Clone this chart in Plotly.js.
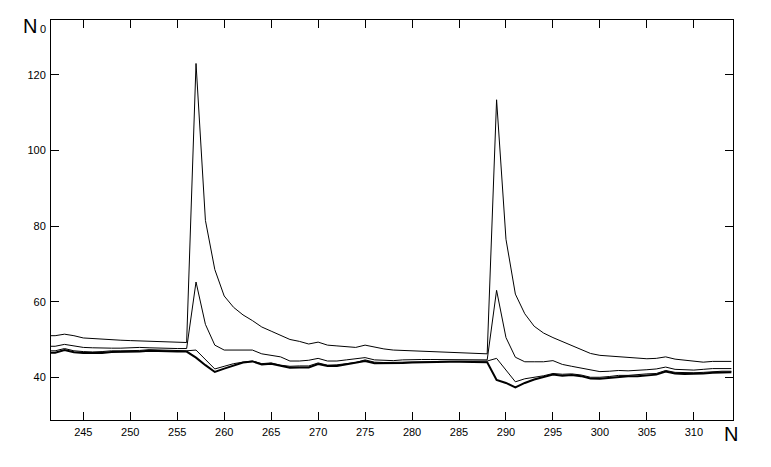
<!DOCTYPE html>
<html>
<head>
<meta charset="utf-8">
<script src="https://cdn.plot.ly/plotly-3.0.1.min.js"></script>
<style>html,body{margin:0;padding:0;background:#fff;}#chart{width:771px;height:467px;}</style>
</head>
<body>
<div id="chart"></div>
<script>
// N values (x)
var nValues = [];
for (var n = 241; n <= 314; n++) nValues.push(n);

// Series A (largest peaks)
var seriesA = [51.0,51.0,51.4,51.0,50.4,50.2,50.1,49.9,49.8,49.7,49.6,49.5,49.4,49.3,49.2,49.2,
  123.0,81.5,68.5,61.5,58.5,56.5,55.0,53.3,52.2,51.0,50.0,49.5,48.8,49.3,48.5,48.3,48.2,47.9,48.5,47.9,
  47.5,47.2,47.1,47.0,46.9,46.9,46.8,46.7,46.6,46.5,46.3,46.2,
  113.4,76.5,62.0,56.8,53.5,51.7,50.5,49.5,48.5,47.5,46.3,45.8,45.6,45.5,45.3,45.0,44.9,45.0,45.4,44.8,
  44.5,44.2,44.0,44.2,44.2,44.2];

// Series B (small peaks)
var seriesB = [48.2,48.2,48.7,48.2,47.9,47.8,47.7,47.7,47.7,47.8,47.9,47.8,47.7,47.7,47.6,47.6,
  65.2,54.0,48.5,47.2,47.2,47.2,47.2,46.2,45.8,45.4,44.3,44.3,44.5,45.0,44.3,44.3,44.6,44.8,45.2,44.6,
  44.4,44.4,44.6,44.7,44.7,44.7,44.7,44.7,44.7,44.7,44.6,44.6,
  63.0,50.5,45.3,44.1,44.1,44.1,44.4,43.4,42.9,42.4,41.8,41.5,41.6,41.8,41.7,41.8,42.0,42.2,42.7,42.1,
  42.0,41.9,42.1,42.3,42.3,42.3];

// Series C (thin, dips)
var seriesC = [47.0,47.0,47.6,47.0,46.8,46.7,46.8,47.0,47.0,47.0,47.1,47.3,47.2,47.1,47.0,47.0,
  47.2,44.8,42.2,42.9,43.6,44.0,44.3,43.6,43.8,43.2,42.9,43.0,43.0,43.8,43.2,43.3,43.6,43.9,44.6,44.0,
  43.9,43.9,43.9,44.0,44.1,44.1,44.2,44.2,44.2,44.3,44.3,44.3,
  45.0,41.8,38.8,39.6,40.0,40.4,41.0,40.8,40.9,40.6,40.0,40.0,40.2,40.5,40.5,40.6,40.9,41.0,41.8,41.3,
  41.2,41.2,41.3,41.5,41.6,41.6];

// Series D (thick, lowest)
var seriesD = [46.5,46.5,47.2,46.6,46.4,46.4,46.4,46.7,46.7,46.7,46.8,47.0,46.9,46.9,46.8,46.8,
  45.2,43.2,41.4,42.3,43.2,43.9,44.2,43.4,43.6,43.0,42.5,42.6,42.6,43.5,43.0,43.0,43.4,43.7,44.3,43.7,
  43.7,43.7,43.8,43.9,44.0,44.0,44.1,44.1,44.1,44.1,44.1,44.0,
  39.3,38.5,37.3,38.5,39.4,40.0,40.7,40.4,40.6,40.3,39.7,39.6,39.8,40.1,40.3,40.3,40.6,40.7,41.5,41.0,
  40.9,40.9,41.0,41.2,41.3,41.3];

var xTickVals = [245,250,255,260,265,270,275,280,285,290,295,300,305,310];
var yTickVals = [40,60,80,100,120];

function tr(y, w) {
  return {x: nValues, y: y, type: 'scatter', mode: 'lines',
    line: {color: '#000', width: w, shape: 'linear'}, hoverinfo: 'skip', showlegend: false};
}

var data = [tr(seriesA, 1), tr(seriesB, 1), tr(seriesC, 1), tr(seriesD, 2)];

var tickFont = {family: 'Liberation Sans, Arial, sans-serif', size: 11, color: '#000'};
var layout = {
  width: 771, height: 467,
  margin: {l: 51, r: 37.5, t: 20, b: 47, pad: 0},
  paper_bgcolor: '#fff', plot_bgcolor: '#fff',
  showlegend: false,
  xaxis: {
    range: [241.56, 314.17], tickvals: xTickVals, ticktext: xTickVals.map(String),
    ticks: 'inside', ticklen: 8, tickcolor: '#000', tickwidth: 1,
    showline: true, linecolor: '#000', linewidth: 1, mirror: 'ticks',
    showgrid: false, zeroline: false, tickfont: tickFont, ticklabelstandoff: 2
  },
  yaxis: {
    range: [28.7, 134.5], tickvals: yTickVals, ticktext: yTickVals.map(String),
    ticks: 'inside', ticklen: 8, tickcolor: '#000', tickwidth: 1,
    showline: true, linecolor: '#000', linewidth: 1, mirror: 'ticks',
    showgrid: false, zeroline: false, tickfont: tickFont, ticklabelstandoff: 2
  },
  annotations: [
    {text: 'N', xref: 'paper', yref: 'paper', x: -0.0315, y: 0.986, xanchor: 'center', yanchor: 'middle',
     showarrow: false, font: {family: 'Liberation Sans, Arial, sans-serif', size: 20, color: '#000'}},
    {text: '0', xref: 'paper', yref: 'paper', x: -0.0115, y: 0.9765, xanchor: 'center', yanchor: 'middle',
     showarrow: false, font: {family: 'Liberation Sans, Arial, sans-serif', size: 11, color: '#000'}},
    {text: 'N', xref: 'paper', yref: 'paper', x: 0.9978, y: -0.034, xanchor: 'center', yanchor: 'middle',
     showarrow: false, font: {family: 'Liberation Sans, Arial, sans-serif', size: 20, color: '#000'}}
  ]
};

Plotly.newPlot('chart', data, layout, {displayModeBar: false, staticPlot: true});
</script>
</body>
</html>
